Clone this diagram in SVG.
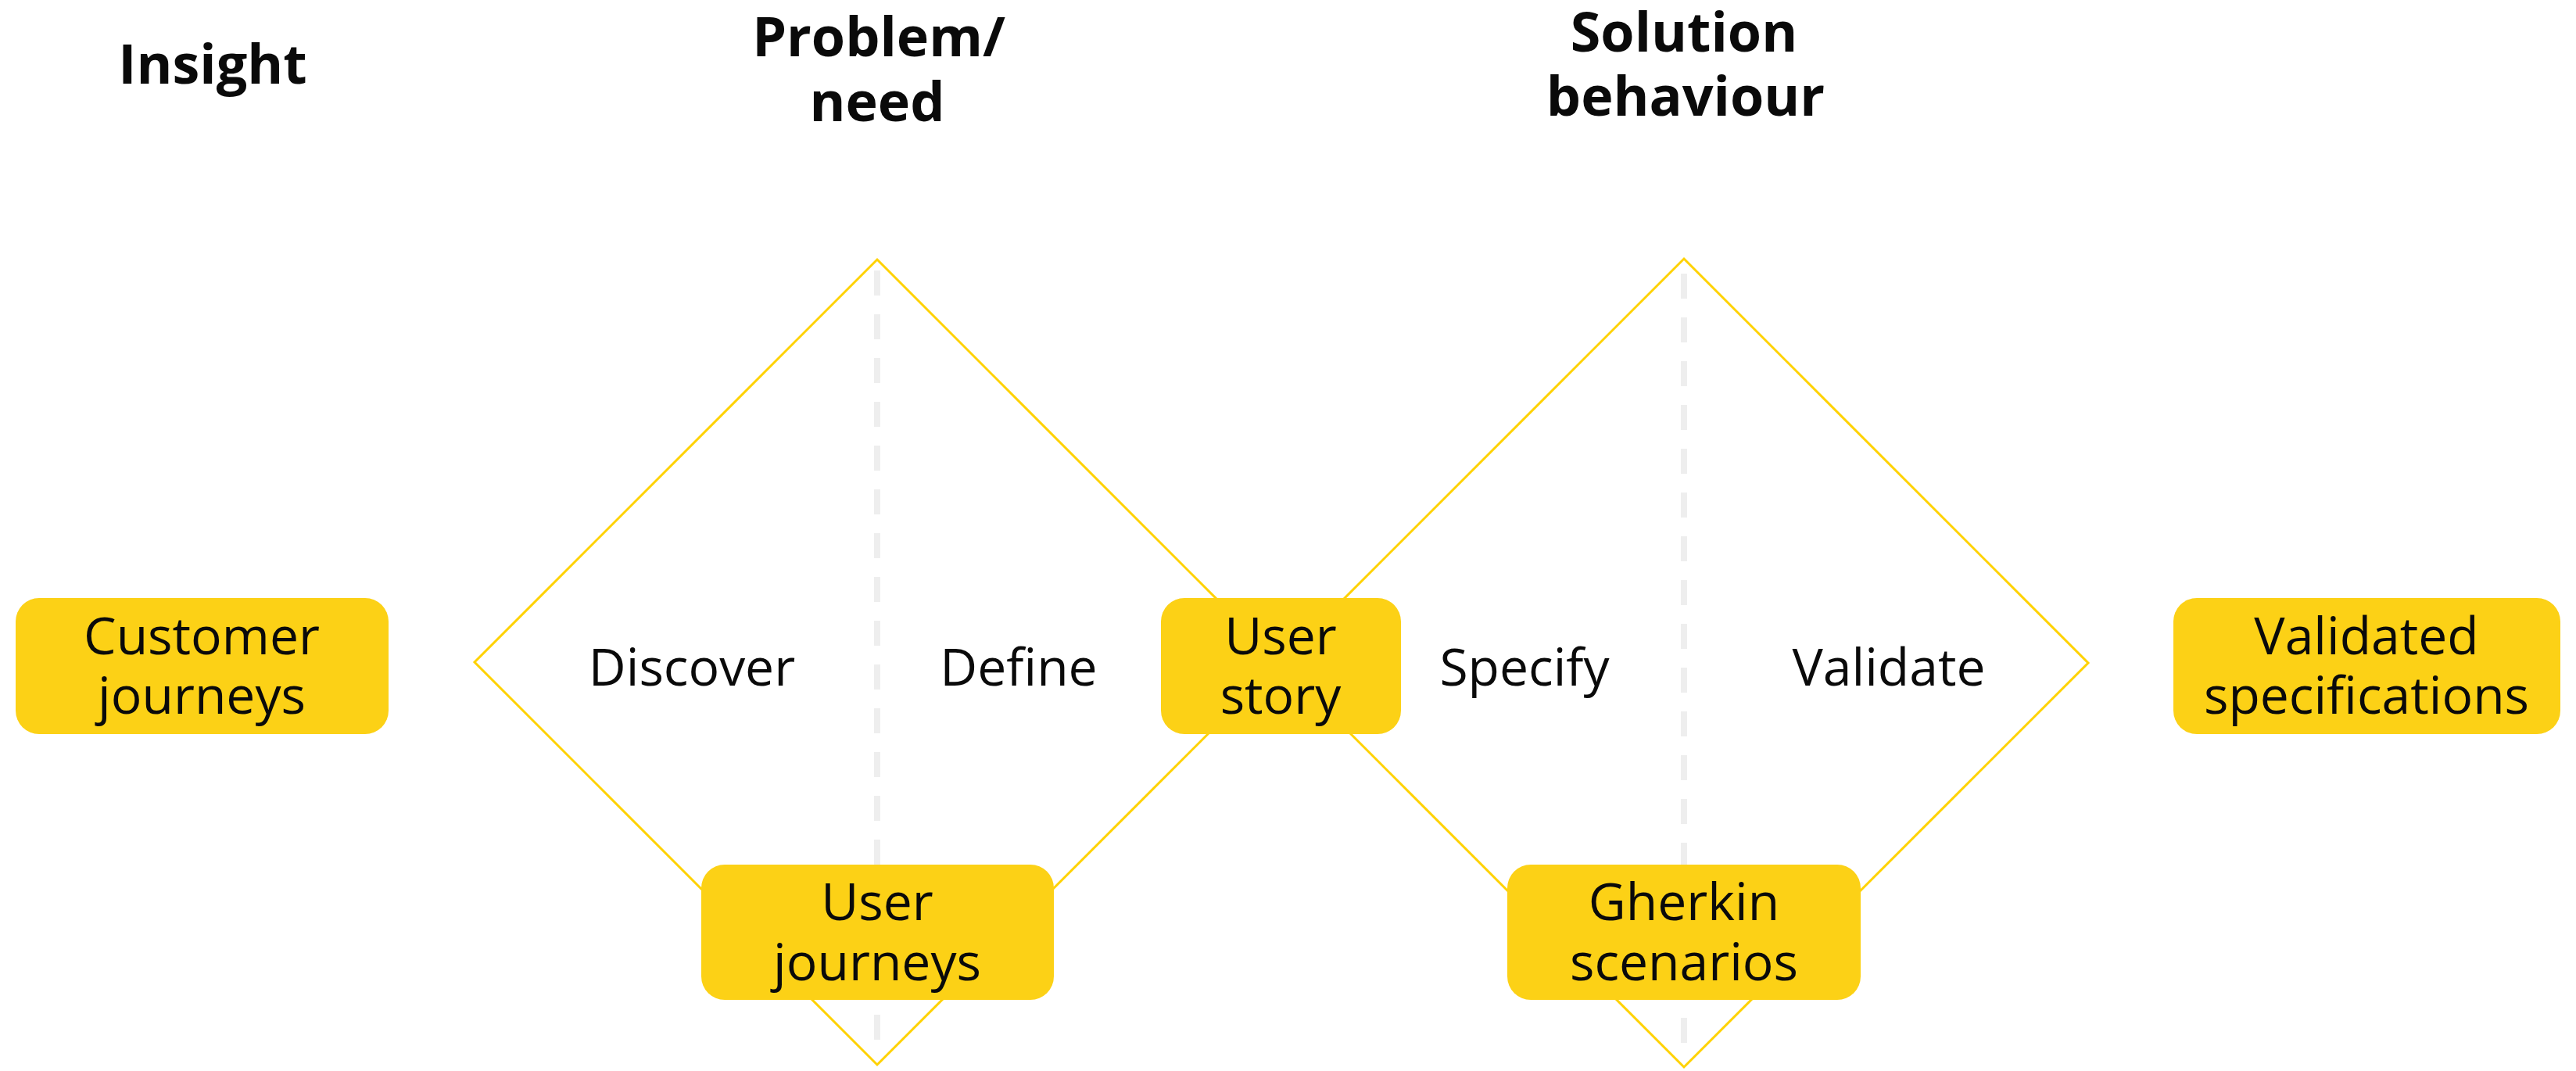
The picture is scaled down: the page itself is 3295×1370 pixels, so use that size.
<svg xmlns="http://www.w3.org/2000/svg" width="3295" height="1370" viewBox="0 0 3295 1370">
  <style>
    .diamond { fill: none; stroke: #FFD200; stroke-width: 3; stroke-linejoin: miter; }
    .divider { stroke: #EEEEEE; stroke-width: 8; stroke-dasharray: 32 24; fill: none; }
    .box { fill: #FCD116; }
    .title { font-family: "Open Sans", "DejaVu Sans", sans-serif; font-weight: 700; font-size: 70px; fill: #0a0a0a; text-anchor: middle; }
    .label { font-family: "Open Sans", "DejaVu Sans", sans-serif; font-weight: 400; font-size: 66px; fill: #0a0a0a; text-anchor: middle; }
  </style>
  <rect width="3295" height="1370" fill="#ffffff"/>

  <g id="titles">
    <text class="title" x="272" y="107">Insight</text>
    <text class="title" x="1124" y="72">Problem/</text>
    <text class="title" x="1122" y="155">need</text>
    <text class="title" x="2154" y="66">Solution</text>
    <text class="title" x="2156" y="148">behaviour</text>
  </g>

  <g id="connectors">
    <polygon id="diamond-problem" class="diamond" points="1122,332 1637,847 1122,1362 607,847"/>
    <polygon id="diamond-solution" class="diamond" points="2154,331 2671,848 2154,1365 1637,848"/>
    <line class="divider" x1="1122" y1="346" x2="1122" y2="1330"/>
    <line class="divider" x1="2154" y1="350" x2="2154" y2="1334"/>
  </g>

  <g id="phase-labels">
    <text class="label" x="885" y="877">Discover</text>
    <text class="label" x="1303" y="877">Define</text>
    <text class="label" x="1950" y="877">Specify</text>
    <text class="label" x="2416" y="877">Validate</text>
  </g>

  <g id="customer-journeys">
    <rect class="box" x="20" y="765" width="477" height="174" rx="30"/>
    <text class="label" x="258" y="837">Customer</text>
    <text class="label" x="258" y="913">journeys</text>
  </g>

  <g id="user-journeys">
    <rect class="box" x="897" y="1106" width="451" height="173" rx="30"/>
    <text class="label" x="1122" y="1177">User</text>
    <text class="label" x="1122" y="1254">journeys</text>
  </g>

  <g id="user-story">
    <rect class="box" x="1485" y="765" width="307" height="174" rx="30"/>
    <text class="label" x="1638" y="837">User</text>
    <text class="label" x="1638" y="913">story</text>
  </g>

  <g id="gherkin-scenarios">
    <rect class="box" x="1928" y="1106" width="452" height="173" rx="30"/>
    <text class="label" x="2154" y="1177">Gherkin</text>
    <text class="label" x="2154" y="1254">scenarios</text>
  </g>

  <g id="validated-specifications">
    <rect class="box" x="2780" y="765" width="495" height="174" rx="30"/>
    <text class="label" x="3027" y="837">Validated</text>
    <text class="label" x="3027" y="913">specifications</text>
  </g>
</svg>
